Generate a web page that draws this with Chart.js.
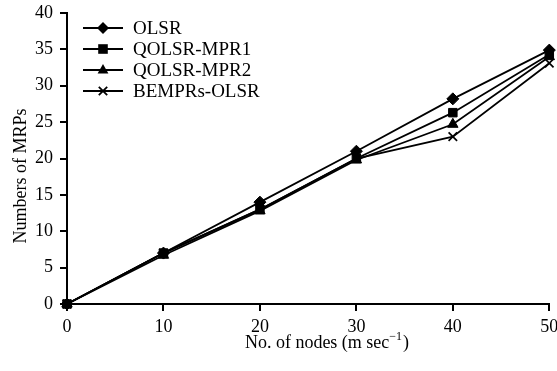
<!DOCTYPE html>
<html>
<head>
<meta charset="utf-8">
<script src="https://cdn.jsdelivr.net/npm/chart.js@4/dist/chart.umd.min.js"></script>
<style>
  html, body { margin: 0; padding: 0; background: #fff; }
  #wrap { width: 557px; height: 371px; }
</style>
</head>
<body>
<div id="wrap"><canvas id="chart" width="557" height="371"></canvas></div>
<script>
// data
var nodes = [0, 10, 20, 30, 40, 50];
var olsr = [0, 7, 14, 21, 28.2, 34.9];
var qolsrMpr1 = [0, 7, 13, 20, 26.3, 34.3];
var qolsrMpr2 = [0, 6.7, 12.8, 19.8, 24.7, 34];
var bemprs = [0, 7, 13, 20, 23, 33.1];
var seriesNames = ['OLSR', 'QOLSR-MPR1', 'QOLSR-MPR2', 'BEMPRs-OLSR'];
var yTitle = 'Numbers of MRPs';

var FONT = '"Liberation Serif", "Times New Roman", serif';

function pts(vals) {
  return vals.map(function (v, i) { return { x: nodes[i], y: v }; });
}

function mkSet(name, vals, style, r) {
  return {
    label: name,
    data: pts(vals),
    borderColor: '#000',
    backgroundColor: '#000',
    borderWidth: 1.8,
    pointStyle: style,
    pointRadius: r,
    pointBorderWidth: style === 'crossRot' ? 1.7 : 1,
    pointBorderColor: '#000',
    pointBackgroundColor: '#000',
    tension: 0,
    clip: false
  };
}

// marker shapes for the hand drawn legend
function marker(ctx, style, x, y, r) {
  ctx.beginPath();
  if (style === 'rectRot') {
    ctx.moveTo(x, y - r); ctx.lineTo(x + r, y); ctx.lineTo(x, y + r); ctx.lineTo(x - r, y);
    ctx.closePath(); ctx.fill();
  } else if (style === 'rect') {
    var s = r * 0.8;
    ctx.rect(x - s, y - s, 2 * s, 2 * s); ctx.fill();
  } else if (style === 'triangle') {
    ctx.moveTo(x, y - r); ctx.lineTo(x + r * 0.9, y + r * 0.6); ctx.lineTo(x - r * 0.9, y + r * 0.6);
    ctx.closePath(); ctx.fill();
  } else {
    var c = r * 0.7;
    ctx.moveTo(x - c, y - c); ctx.lineTo(x + c, y + c);
    ctx.moveTo(x + c, y - c); ctx.lineTo(x - c, y + c);
    ctx.stroke();
  }
}

var decor = {
  id: 'decor',
  afterDraw: function (chart) {
    var ctx = chart.ctx;
    ctx.save();
    ctx.fillStyle = '#000';
    ctx.strokeStyle = '#000';

    // legend
    var rows = [28, 49, 70, 91];
    chart.data.datasets.forEach(function (ds, i) {
      var y = rows[i];
      ctx.lineWidth = 1.8;
      ctx.beginPath(); ctx.moveTo(83, y); ctx.lineTo(123, y); ctx.stroke();
      marker(ctx, ds.pointStyle, 103, y, ds.pointRadius);
      ctx.font = '19px ' + FONT;
      ctx.textAlign = 'left';
      ctx.textBaseline = 'middle';
      ctx.fillText(ds.label, 133, y + 1);
    });

    // y title
    ctx.save();
    ctx.translate(21, 176);
    ctx.rotate(-Math.PI / 2);
    ctx.font = '18px ' + FONT;
    ctx.textAlign = 'center';
    ctx.textBaseline = 'middle';
    ctx.fillText(yTitle, 0, 0);
    ctx.restore();

    // x title with superscript
    var a = 'No. of nodes (m sec', sup = '\u22121', b = ')';
    ctx.textBaseline = 'alphabetic';
    ctx.textAlign = 'left';
    ctx.font = '18px ' + FONT;
    var wa = ctx.measureText(a).width, wb = ctx.measureText(b).width;
    ctx.font = '12px ' + FONT;
    var ws = ctx.measureText(sup).width;
    var x0 = 327 - (wa + ws + wb + 1) / 2, base = 348;
    ctx.font = '18px ' + FONT;
    ctx.fillText(a, x0, base);
    ctx.font = '12px ' + FONT;
    ctx.fillText(sup, x0 + wa, base - 8);
    ctx.font = '18px ' + FONT;
    ctx.fillText(b, x0 + wa + ws + 1, base);
    ctx.restore();
  }
};

var axisBase = {
  grid: { display: true, drawOnChartArea: false, drawTicks: true, tickLength: 7, color: '#000', lineWidth: 2 },
  border: { display: true, color: '#000', width: 2 },
  ticks: { color: '#000', font: { family: FONT, size: 18 } }
};

new Chart(document.getElementById('chart'), {
  type: 'line',
  data: {
    datasets: [
      mkSet(seriesNames[0], olsr, 'rectRot', 6),
      mkSet(seriesNames[1], qolsrMpr1, 'rect', 6),
      mkSet(seriesNames[2], qolsrMpr2, 'triangle', 6),
      mkSet(seriesNames[3], bemprs, 'crossRot', 6)
    ]
  },
  options: {
    responsive: false,
    animation: false,
    layout: { padding: { top: 13, right: 4, left: 0, bottom: 0 } },
    plugins: { legend: { display: false }, tooltip: { enabled: false } },
    scales: {
      x: Object.assign({}, axisBase, {
        type: 'linear', min: 0, max: 50,
        ticks: Object.assign({}, axisBase.ticks, { stepSize: 10, padding: 5, maxRotation: 0 }),
        afterFit: function (s) { s.height = 67; s.paddingLeft = 0; s.paddingRight = 0; }
      }),
      y: Object.assign({}, axisBase, {
        min: 0, max: 40,
        ticks: Object.assign({}, axisBase.ticks, { stepSize: 5, padding: 7 }),
        afterFit: function (s) { s.width = 67; s.paddingTop = 0; s.paddingBottom = 0; }
      })
    }
  },
  plugins: [decor]
});
</script>
</body>
</html>
